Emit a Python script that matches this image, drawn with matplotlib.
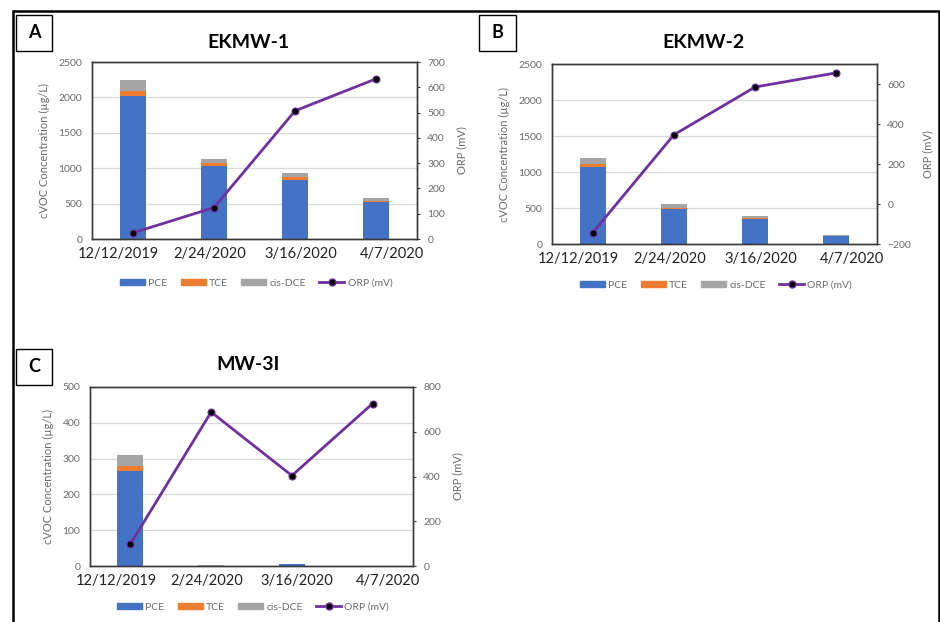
import matplotlib
matplotlib.use("Agg")
import matplotlib.pyplot as plt
from matplotlib.patches import Rectangle
from matplotlib.lines import Line2D
import numpy as np

plt.rcParams['font.family'] = ['Lato', 'DejaVu Sans']

dates = ["12/12/2019", "2/24/2020", "3/16/2020", "4/7/2020"]
series_names = ["PCE", "TCE", "cis-DCE", "ORP (mV)"]

# Panel A: EKMW-1
a_title = "EKMW-1"
a_pce = [2025, 1025, 830, 518]
a_tce = [70, 45, 40, 23]
a_dce = [155, 60, 60, 43]
a_orp = [24, 124, 507, 634]

# Panel B: EKMW-2
b_title = "EKMW-2"
b_pce = [1067, 480, 350, 112]
b_tce = [51, 24, 15, 6]
b_dce = [79, 46, 28, 9]
b_orp = [-144, 346, 585, 656]

# Panel C: MW-3I
c_title = "MW-3I"
c_pce = [265, 1, 6, 0]
c_tce = [15, 0, 0, 0]
c_dce = [31, 1, 0.5, 0]
c_orp = [98, 688, 404, 726]

C_PCE = "#4472C4"
C_TCE = "#ED7D31"
C_DCE = "#A5A5A5"
C_ORP = "#7030A0"
GRAY = "#6a6a6a"

W, H = 940, 622
fig = plt.figure(figsize=(W / 100, H / 100), dpi=100)


def fx(x):
    return x / W


def fy(y):
    return 1 - y / H


def panel(rect_px, title, pce, tce, dce, orp, ylim1, yticks1, ylim2, yticks2,
          title_xy, box_px, letter, legend_xy):
    l, t, r, b = rect_px
    ax = fig.add_axes([fx(l), fy(b), fx(r - l), (b - t) / H])
    x = np.arange(len(dates))
    pce = np.array(pce, float)
    tce = np.array(tce, float)
    dce = np.array(dce, float)
    bw = 0.32
    ax.bar(x, pce, bw, color=C_PCE, linewidth=0, zorder=2, label="PCE")
    ax.bar(x, tce, bw, bottom=pce, color=C_TCE, linewidth=0, zorder=2, label="TCE")
    ax.bar(x, dce, bw, bottom=pce + tce, color=C_DCE, linewidth=0, zorder=2, label="cis-DCE")
    ax.set_xlim(-0.5, 3.5)
    ax.set_ylim(*ylim1)
    ax.set_yticks(yticks1)
    ax.yaxis.grid(True, color="#d9d9d9", linewidth=0.9, zorder=0)
    ax.set_axisbelow(True)
    # tick labels for dates (offset as in the reference)
    ax.set_xticks(np.linspace(-0.18, 3.19, len(dates)))
    ax.set_xticklabels(dates, fontsize=10.5, color="#222222")
    ax.tick_params(axis="x", length=0, pad=6)
    ax.tick_params(axis="y", length=0, pad=7, labelsize=7.5, labelcolor=GRAY)
    ax.set_ylabel("cVOC Concentration (µg/L)", fontsize=8, color=GRAY, labelpad=6)
    for s in ax.spines.values():
        s.set_color("#3a3a3a")
        s.set_linewidth(1.0)

    ax2 = ax.twinx()
    ax2.plot(x, orp, color=C_ORP, linewidth=2.0, marker="o", markersize=5,
             markerfacecolor="black", markeredgecolor=C_ORP, markeredgewidth=0.8,
             zorder=5, label="ORP (mV)")
    ax2.set_ylim(*ylim2)
    ax2.set_yticks(yticks2)
    ax2.tick_params(axis="y", length=2.5, width=0.8, color="#3a3a3a", pad=5,
                    labelsize=7.5, labelcolor=GRAY)
    ax2.set_ylabel("ORP (mV)", fontsize=8, color=GRAY, labelpad=8)
    for s in ax2.spines.values():
        s.set_color("#3a3a3a")
        s.set_linewidth(1.0)

    # title
    fig.text(fx(title_xy[0]), fy(title_xy[1]), title, ha="center", va="center",
             fontsize=14, fontweight="bold", color="black")
    # letter box
    bl, bt, br, bb = box_px
    fig.add_artist(Rectangle((fx(bl), fy(bb)), fx(br - bl), (bb - bt) / H,
                             transform=fig.transFigure, fill=False,
                             edgecolor="black", linewidth=1.0))
    fig.text(fx((bl + br) / 2), fy((bt + bb) / 2), letter, ha="center", va="center",
             fontsize=13, fontweight="bold", color="black")

    handles = [
        Rectangle((0, 0), 1, 1, color=C_PCE),
        Rectangle((0, 0), 1, 1, color=C_TCE),
        Rectangle((0, 0), 1, 1, color=C_DCE),
        Line2D([], [], color=C_ORP, linewidth=2.0, marker="o", markersize=5,
               markerfacecolor="black", markeredgecolor=C_ORP),
    ]
    fig.legend(handles, series_names, loc="center",
               bbox_to_anchor=(fx(legend_xy[0]), fy(legend_xy[1])),
               ncol=4, frameon=False, fontsize=7.5, labelcolor=GRAY,
               handlelength=2.4, handleheight=0.5, handletextpad=0.3,
               columnspacing=1.3)


panel((92, 62, 417, 239), a_title, a_pce, a_tce, a_dce, a_orp,
      (0, 2500), np.arange(0, 2501, 500), (0, 700), np.arange(0, 701, 100),
      (248, 42), (16, 15, 52, 51), "A", (256, 283))

panel((552, 64, 877, 244), b_title, b_pce, b_tce, b_dce, b_orp,
      (0, 2500), np.arange(0, 2501, 500), (-200, 700), np.arange(-200, 601, 200),
      (703, 42), (479, 15, 516, 51), "B", (716, 285))

panel((90, 387, 413, 566), c_title, c_pce, c_tce, c_dce, c_orp,
      (0, 500), np.arange(0, 501, 100), (0, 800), np.arange(0, 801, 200),
      (248, 365), (16, 349, 52, 385), "C", (253, 607))

# outer frame
fig.add_artist(Rectangle((fx(12.5), fy(640)), fx(939 - 12.5), (640 - 11) / H,
                         transform=fig.transFigure, fill=False,
                         edgecolor="black", linewidth=1.8, clip_on=False))

fig.savefig("out.png", dpi=100)
